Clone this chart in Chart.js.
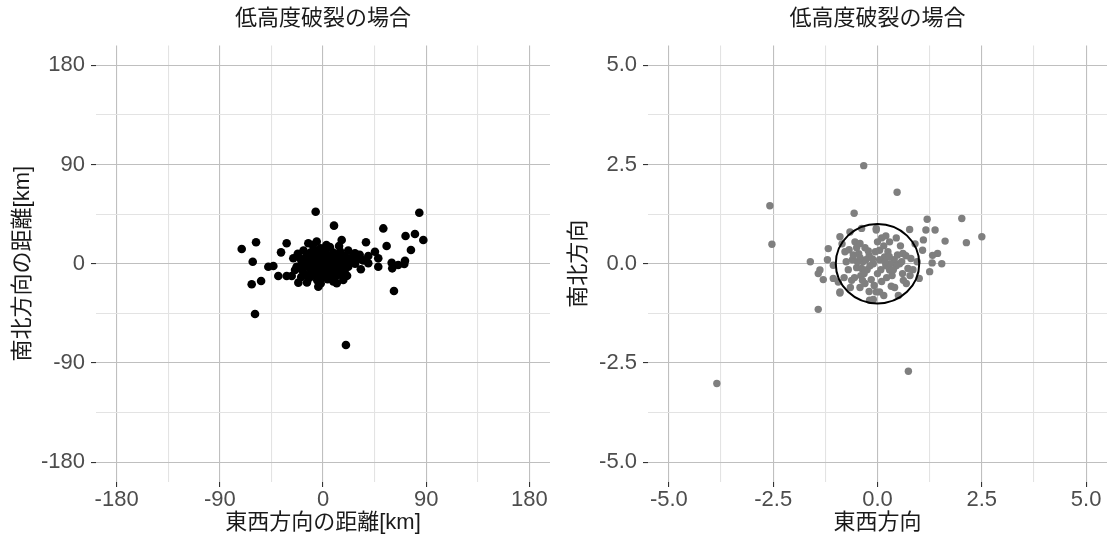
<!DOCTYPE html>
<html>
<head>
<meta charset="utf-8">
<script src="https://cdn.jsdelivr.net/npm/chart.js@4.4.1/dist/chart.umd.min.js"></script>
<style>
  body { margin: 0; background: #fff; }
  canvas { position: absolute; top: 0; }
</style>
</head>
<body>
<canvas id="left" width="556" height="551" style="left:0"></canvas>
<canvas id="right" width="555" height="551" style="left:556px"></canvas>
<script>
// 共通タイトル
const panelTitle = '低高度破裂の場合';

// 左: 距離[km]
const leftXTitle = '東西方向の距離[km]';
const leftYTitle = '南北方向の距離[km]';
const leftMajor = [-180, -90, 0, 90, 180];
const leftMinor = [-135, -45, 45, 135];
const leftRange = [-198, 198];
const leftPoints = [
  [-70.9, 13.3], [-58.4, 19.4], [-61.3, 1.8], [-62.2, -18.7], [-54, -15.7], [-59.3, -45.6],
  [-47.7, -2.7], [-43.3, -2.1], [-39, -11.2], [-31.7, -11.2], [-27.3, -11.2], [-36.6, 10.3],
  [-31.7, 18.5], [-25.9, 4.9], [-21.5, -17.2], [-24.4, -5.7], [-23, -2.7], [-18.6, 0.4],
  [-6.4, 47.1], [9.6, 34.5], [-12.8, 18.5], [-5.5, 20.0], [-4.1, -20.8], [12, -17.8], [20, -73.7],
  [84, 46.2], [52.6, 32], [72, 25.1], [80.2, 26.9], [87.5, 21.5], [55.5, 16], [76.7, 12.4],
  [37.5, 19.4], [16.3, 21.5], [45.3, 10.9], [39.5, 7], [48.2, 4.9], [39.5, 0.4], [48.2, -2.7],
  [59.9, 0.9], [60.4, -4.2], [65.6, -1.2], [70.9, -0.3], [71.5, 2.7], [61.9, -24.8],
  [27.9, 9.4], [32, 8], [25, 3.4], [22, -2.7], [19.2, -8.7], [17.7, -14.7],
  [-18, -6], [-16, 2], [-15, -10], [-14, 8], [-13, -3], [-12, 4], [-12, -13], [-11, 10],
  [-10, -1], [-10, -8], [-9, 6], [-8, 13], [-8, -4], [-7, 1], [-7, -11], [-6, 8], [-6, -6],
  [-5, 3], [-5, -15], [-4, 11], [-4, -2], [-3, 6], [-3, -9], [-2, 0], [-2, 14], [-1, 4],
  [-1, -5], [0, 9], [0, -12], [0, 1], [1, -3], [1, 6], [2, 12], [2, -8], [3, 2], [3, -1],
  [4, 8], [4, -14], [5, 4], [5, -5], [6, 0], [6, 15], [7, -10], [7, 6], [8, 2], [8, -3],
  [9, 10], [10, -7], [10, 4], [11, 0], [12, 8], [12, -11], [13, 3], [14, -4], [15, 11],
  [15, -9], [16, 5], [17, 0], [18, -5], [19, 7], [20, 2], [21, -11], [22, 12], [23, 5],
  [-17, 12], [-19, -12], [-20, 5], [-14, -17], [9, -16], [-2, -18], [3, 17], [-9, 17],
  [14, 16], [26, 6], [28, 0], [30, 4], [33, -5], [35, 3], [-22, 9]
];

// 右: 方向
const rightXTitle = '東西方向';
const rightYTitle = '南北方向';
const rightMajor = [-5, -2.5, 0, 2.5, 5];
const rightMinor = [-3.75, -1.25, 1.25, 3.75];
const rightRange = [-5.5, 5.5];
const circleRadius = 1;
const rightPoints = [
  [-0.33, 2.47], [0.47, 1.8], [-2.58, 1.46], [-2.53, 0.49], [-0.56, 1.27], [1.19, 1.12],
  [2.02, 1.14], [2.5, 0.68], [1.38, 0.85], [1.16, 0.85], [1.62, 0.57], [2.13, 0.53],
  [0.77, 0.86], [-1.61, 0.05], [-1.42, -0.25], [-1.38, -0.16], [-1.18, 0.38], [-0.9, -0.74],
  [1.54, 0.0], [1.44, 0.26], [1.31, 0.02], [1.32, 0.21], [1.08, 0.34], [1.0, -0.37],
  [-3.85, -3.02], [0.74, -2.71], [-1.42, -1.15], [-0.9, 0.68], [-0.66, 0.8], [-0.38, 0.89],
  [-0.03, 0.89], [-0.78, 0.3], [-0.54, 0.55], [-0.42, 0.51], [-1.06, -0.04], [-1.06, -0.37],
  [-0.94, -0.46], [-0.9, -0.71], [-0.62, -0.42], [-0.42, -0.6], [-0.19, -0.92], [0.05, -0.71],
  [-0.03, 0.85], [0.29, 0.55], [0.73, -0.12], [0.69, -0.5], [0.33, -0.57], [0.41, -0.6],
  [-0.03, -0.71], [0.05, 0.34], [0.17, 0.17], [0.29, -0.16], [0.53, 0], [0.61, 0.26], [0.8, 0.13],
  [-0.6, 0.1], [-0.5, -0.1], [-0.45, 0.25], [-0.4, -0.3], [-0.35, 0.05], [-0.3, 0.4],
  [-0.25, -0.15], [-0.2, 0.2], [-0.15, -0.4], [-0.1, 0.0], [-0.05, 0.3], [0, -0.25],
  [0.05, 0.1], [0.1, -0.45], [0.15, 0.45], [0.2, -0.05], [0.25, 0.3], [0.35, -0.3],
  [0.4, 0.1], [0.45, -0.05], [-0.55, -0.35], [-0.7, -0.15], [-0.75, 0.05], [-0.3, -0.5],
  [0.0, 0.55], [-0.5, 0.4], [0.3, 0.0], [-0.2, -0.7], [0.55, 0.45], [0.6, -0.25], [0.9, 0.5],
  [0.85, -0.15], [-0.85, 0.5], [-1.2, 0.1], [-0.65, -0.6], [0.2, 0.7], [0.45, 0.65],
  [-0.1, -0.9], [0.15, -0.8], [0.5, -0.8], [1.1, 0.6], [1.25, -0.2], [-1.3, -0.4], [0.95, 0.05],
  [-0.48, 0.05], [-0.38, -0.12], [-0.28, 0.1], [-0.18, -0.05], [-0.42, 0.15], [-0.32, -0.25],
  [-0.22, 0.32], [-0.12, 0.12], [0.08, -0.15], [0.18, 0.05], [0.28, 0.18], [0.38, -0.15],
  [0.48, 0.22], [0.58, 0.05], [0.68, 0.2], [-0.58, 0.22], [-0.68, 0.35], [-0.36, -0.42],
  [-0.08, -0.55], [0.22, -0.35], [0.62, -0.42], [0.78, -0.3], [-0.8, -0.35], [0.1, 0.65]
];

Chart.defaults.font.family = "'Liberation Sans', 'Noto Sans CJK JP', sans-serif";
Chart.defaults.animation = false;

const majorGrid = '#bfbfbf';
const minorGrid = '#e3e3e3';

function axis(major, minor, range, fmt, title, isX, yWidth) {
  const all = major.concat(minor).sort((a, b) => a - b);
  const isMajor = v => major.some(m => Math.abs(m - v) < 1e-9);
  const a = {
    type: 'linear',
    min: range[0],
    max: range[1],
    afterBuildTicks: s => { s.ticks = all.map(v => ({ value: v })); },
    border: { display: false },
    grid: {
      color: c => isMajor(c.tick.value) ? majorGrid : minorGrid,
      lineWidth: 1.1,
      tickLength: 5,
      tickColor: c => isMajor(c.tick.value) ? '#333333' : 'rgba(0,0,0,0)',
      tickWidth: 1.1
    },
    ticks: {
      color: '#4d4d4d',
      font: { size: 22, lineHeight: 1 },
      padding: isX ? 2 : 6,
      maxRotation: 0,
      autoSkip: false,
      callback: v => isMajor(v) ? fmt(v) : ''
    },
    title: {
      display: true,
      text: title,
      color: '#1a1a1a',
      font: { size: 22 },
      padding: isX ? { top: 0, bottom: 15 } : { top: 10, bottom: 0 }
    }
  };
  if (isX) a.afterFit = s => { s.height = 69; };
  else a.afterFit = s => { s.width = yWidth; };
  return a;
}

const circlePlugin = {
  id: 'unitCircle',
  afterDatasetsDraw(chart) {
    const x = chart.scales.x, y = chart.scales.y;
    const cx = x.getPixelForValue(0), cy = y.getPixelForValue(0);
    const rx = Math.abs(x.getPixelForValue(circleRadius) - cx);
    const ry = Math.abs(y.getPixelForValue(circleRadius) - cy);
    const ctx = chart.ctx;
    ctx.save();
    ctx.beginPath();
    ctx.ellipse(cx, cy, rx, ry, 0, 0, Math.PI * 2);
    ctx.strokeStyle = '#000';
    ctx.lineWidth = 2;
    ctx.stroke();
    ctx.restore();
  }
};

function makeChart(id, pts, color, radius, xa, ya, padRight, plugins) {
  return new Chart(document.getElementById(id), {
    type: 'scatter',
    data: {
      datasets: [{
        data: pts.map(p => ({ x: p[0], y: p[1] })),
        backgroundColor: color,
        borderWidth: 0,
        pointRadius: radius
      }]
    },
    options: {
      responsive: false,
      devicePixelRatio: 1,
      layout: { padding: { right: padRight } },
      scales: { x: xa, y: ya },
      plugins: {
        legend: { display: false },
        tooltip: { enabled: false },
        title: {
          display: true,
          text: panelTitle,
          fullSize: false,
          color: '#1a1a1a',
          font: { size: 22, weight: 'normal' },
          padding: { top: 6, bottom: 13 }
        }
      }
    },
    plugins: plugins
  });
}

makeChart('left', leftPoints, '#000000', 4.3,
  axis(leftMajor, leftMinor, leftRange, v => String(v), leftXTitle, true),
  axis(leftMajor, leftMinor, leftRange, v => String(v), leftYTitle, false, 96),
  6, []);

makeChart('right', rightPoints, '#7f7f7f', 3.7,
  axis(rightMajor, rightMinor, rightRange, v => v.toFixed(1), rightXTitle, true),
  axis(rightMajor, rightMinor, rightRange, v => v.toFixed(1), rightYTitle, false, 92),
  3, [circlePlugin]);
</script>
</body>
</html>
